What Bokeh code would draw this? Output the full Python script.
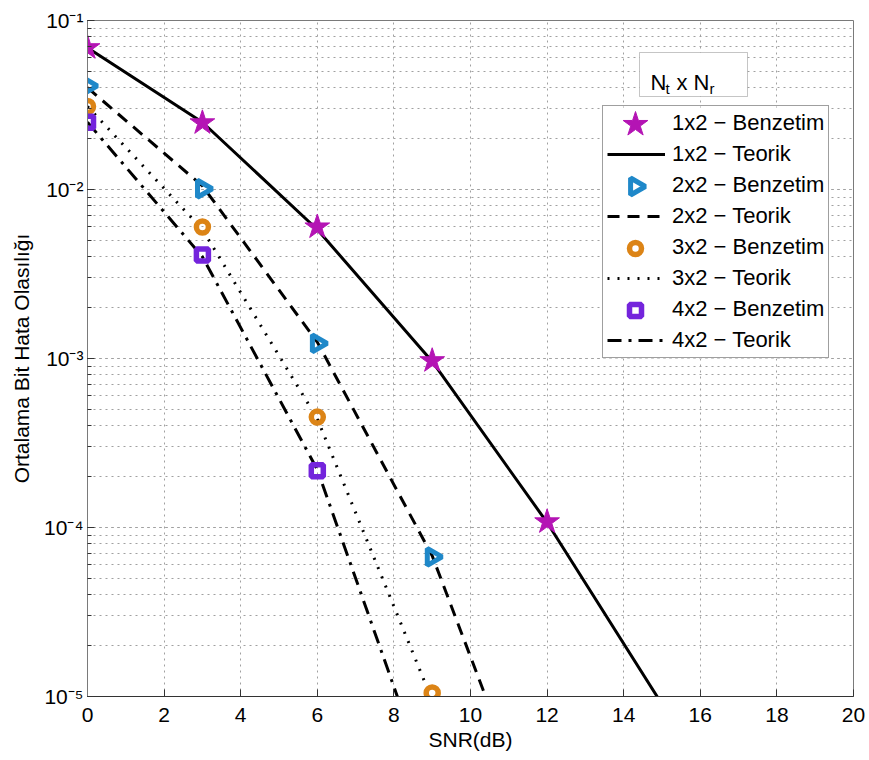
import numpy as np
from bokeh.plotting import figure
from bokeh.models import (Range1d, SingleIntervalTicker, LogTicker, CustomJSTickFormatter,
                          Legend, LegendItem, BoxAnnotation, Label)
from bokeh.embed import file_html
from bokeh.resources import INLINE

# ---------------- data ----------------
snr_theory = [0, 3, 6, 9, 12, 15]
ber_theory_1x2 = [0.069, 0.025, 0.0058, 9.6e-4, 1.07e-4, 9.0e-6]
ber_theory_2x2 = [0.040, 0.0105, 1.25e-3, 6.8e-5, 1.1e-6, 1.0e-8]
ber_theory_3x2 = [0.031, 0.0058, 4.4e-4, 9.5e-6, 5.0e-8, 1.0e-10]
ber_theory_4x2 = [0.025, 0.0040, 2.2e-4, 2.6e-6, 1.0e-8, 1.0e-11]

snr_sim_1x2 = [0, 3, 6, 9, 12]
ber_sim_1x2 = [0.069, 0.0248, 0.0060, 9.7e-4, 1.08e-4]
snr_sim_2x2 = [0, 3, 6, 9]
ber_sim_2x2 = [0.041, 0.0101, 1.23e-3, 6.7e-5]
snr_sim_3x2 = [0, 3, 6, 9]
ber_sim_3x2 = [0.031, 0.0060, 4.5e-4, 1.05e-5]
snr_sim_4x2 = [0, 3, 6]
ber_sim_4x2 = [0.025, 0.0041, 2.17e-4]

legend_labels = ["1x2 \u2212 Benzetim", "1x2 \u2212 Teorik",
                 "2x2 \u2212 Benzetim", "2x2 \u2212 Teorik",
                 "3x2 \u2212 Benzetim", "3x2 \u2212 Teorik",
                 "4x2 \u2212 Benzetim", "4x2 \u2212 Teorik"]

FONT = "Liberation Sans"
C_STAR = "#B414B4"
C_TRI = "#1F88C9"
C_CIRC = "#DC8416"
C_SQ = "#7424DC"
GRID_C = "#a0a0a0"

X_MIN, X_MAX = 0, 20
Y_MIN, Y_MAX = 1e-5, 1e-1
FRAME_W, FRAME_H = 766, 676


def screen_to_data(sx, sy):
    """frame pixel position (from bottom-left) -> data coordinates (for legend decoration)"""
    xd = X_MIN + sx / FRAME_W * (X_MAX - X_MIN)
    ld = np.log10(Y_MIN) + sy / FRAME_H * (np.log10(Y_MAX) - np.log10(Y_MIN))
    return xd, 10 ** ld


p = figure(width=869, height=760,
           x_range=Range1d(X_MIN, X_MAX), y_range=Range1d(Y_MIN, Y_MAX),
           y_axis_type="log", output_backend="svg", toolbar_location=None,
           min_border_left=87, min_border_top=20, min_border_right=16, min_border_bottom=64)

p.background_fill_color = "white"
p.border_fill_color = "white"
p.outline_line_color = "#7a7a7a"
p.outline_line_width = 1

# axes
p.xaxis.ticker = SingleIntervalTicker(interval=2, num_minor_ticks=0)
p.yaxis.ticker = LogTicker(num_minor_ticks=10)
p.yaxis.formatter = CustomJSTickFormatter(code="""
const sup = {'-':'\u207b','0':'\u2070','1':'\u00b9','2':'\u00b2','3':'\u00b3','4':'\u2074',
             '5':'\u2075','6':'\u2076','7':'\u2077','8':'\u2078','9':'\u2079'};
const e = Math.round(Math.log10(tick));
return '10' + String(e).split('').map(c => sup[c]).join('');
""")
for ax in (p.xaxis[0], p.yaxis[0]):
    ax.major_label_text_font = FONT
    ax.major_label_text_font_size = "21px"
    ax.major_label_text_color = "black"
    ax.axis_label_text_font = FONT
    ax.axis_label_text_font_size = "21px"
    ax.axis_label_text_font_style = "normal"
    ax.axis_label_text_color = "black"
    ax.major_tick_in = 7
    ax.major_tick_out = 0
    ax.minor_tick_in = 4
    ax.minor_tick_out = 0
    ax.major_tick_line_color = "#333333"
    ax.minor_tick_line_color = "#333333"
p.xaxis.axis_line_color = "#333333"
p.yaxis.axis_line_color = "#7a7a7a"
p.xaxis.axis_label = "SNR(dB)"
p.yaxis.axis_label = "Ortalama Bit Hata Olas\u0131l\u0131\u011f\u0131"
p.xaxis.major_label_standoff = 11
p.xaxis.axis_label_standoff = 3
p.yaxis.major_label_standoff = 4
p.yaxis.axis_label_standoff = 8

# grid: dotted grey, major + minor (y)
for g in (p.xgrid[0], p.ygrid[0]):
    g.grid_line_color = GRID_C
    g.grid_line_dash = "2 4"
    g.grid_line_width = 1
p.ygrid.minor_grid_line_color = GRID_C
p.ygrid.minor_grid_line_dash = "2 4"
p.ygrid.minor_grid_line_width = 1

# ---------------- legend geometry ----------------
LEG_X, LEG_Y, PAD, GW, GH, SP, LEG_W = 515, 338, 4, 58, 26, 5, 226
N_ITEMS = len(legend_labels)
leg_top = LEG_Y + 2 * PAD + N_ITEMS * GH + (N_ITEMS - 1) * SP

# white legend background (drawn as a glyph so the legend symbols can sit on top of it)
bx0, by0 = screen_to_data(LEG_X, LEG_Y)
bx1, by1 = screen_to_data(LEG_X + LEG_W, leg_top)
p.quad(left=[bx0], right=[bx1], bottom=[by0], top=[by1],
       fill_color="white", line_alpha=0)

# theory lines
LINE_STYLES = [None, "12 8", "2 8", "14 7 3 7"]
theory = [ber_theory_1x2, ber_theory_2x2, ber_theory_3x2, ber_theory_4x2]
line_rs = []
for ys, dash in zip(theory, LINE_STYLES):
    kw = dict(line_color="black", line_width=3)
    if dash:
        kw["line_dash"] = dash
    line_rs.append(p.line(snr_theory, ys, **kw))

# simulation markers
marker_styles = [
    dict(marker="star", size=26, fill_color=C_STAR, fill_alpha=1, line_color=C_STAR, line_width=1, angle=0),
    dict(marker="triangle", size=17, fill_alpha=0, line_color=C_TRI, line_width=5, angle=-np.pi / 2),
    dict(marker="circle", size=12, fill_alpha=0, line_color=C_CIRC, line_width=5.5, angle=0),
    dict(marker="square", size=12, fill_alpha=0, line_color=C_SQ, line_width=5.5, angle=0),
]
sims = [(snr_sim_1x2, ber_sim_1x2), (snr_sim_2x2, ber_sim_2x2),
        (snr_sim_3x2, ber_sim_3x2), (snr_sim_4x2, ber_sim_4x2)]
for (xs, ys), st in zip(sims, marker_styles):
    p.scatter(xs, ys, **st)

# full-size legend symbols
cx = LEG_X + PAD + GW / 2
for k, st in enumerate(marker_styles):
    cy = leg_top - PAD - GH / 2 - 2 * k * (GH + SP)
    xd, yd = screen_to_data(cx, cy)
    p.scatter([xd], [yd], **st)

# invisible stand-ins so the legend reserves the marker slots
ghost_rs = [p.scatter(x=[], y=[], marker=st["marker"], size=1, fill_alpha=0, line_alpha=0)
            for st in marker_styles]

renderers = [ghost_rs[0], line_rs[0], ghost_rs[1], line_rs[1],
             ghost_rs[2], line_rs[2], ghost_rs[3], line_rs[3]]
items = [LegendItem(label=lab, renderers=[r]) for lab, r in zip(legend_labels, renderers)]

legend = Legend(items=items, location=(LEG_X, LEG_Y), margin=0, padding=PAD, spacing=SP,
                glyph_width=GW, glyph_height=GH, label_height=GH, label_standoff=7,
                label_text_font=FONT, label_text_font_size="22px", label_text_color="black",
                border_line_color="#404040", border_line_width=1,
                background_fill_alpha=0)
p.add_layout(legend)

# legend title box "Nt x Nr"
title_box = BoxAnnotation(left=552, right=660, top=644, bottom=600,
                          left_units="screen", right_units="screen",
                          top_units="screen", bottom_units="screen",
                          fill_color="white", fill_alpha=1,
                          line_color="#404040", line_width=1)
p.add_layout(title_box)
title_parts = [("N", 563, 614, "22px"), ("t", 578, 608, "15px"), ("x", 589, 614, "22px"),
               ("N", 606, 614, "22px"), ("r", 622, 608, "15px")]
for txt, sx, sy, fs in title_parts:
    p.add_layout(Label(x=sx, y=sy, x_units="screen", y_units="screen", text=txt,
                       text_font=FONT, text_font_size=fs, text_color="black",
                       text_align="left", text_baseline="alphabetic"))

open("out.html", "w").write(file_html(p, INLINE))
